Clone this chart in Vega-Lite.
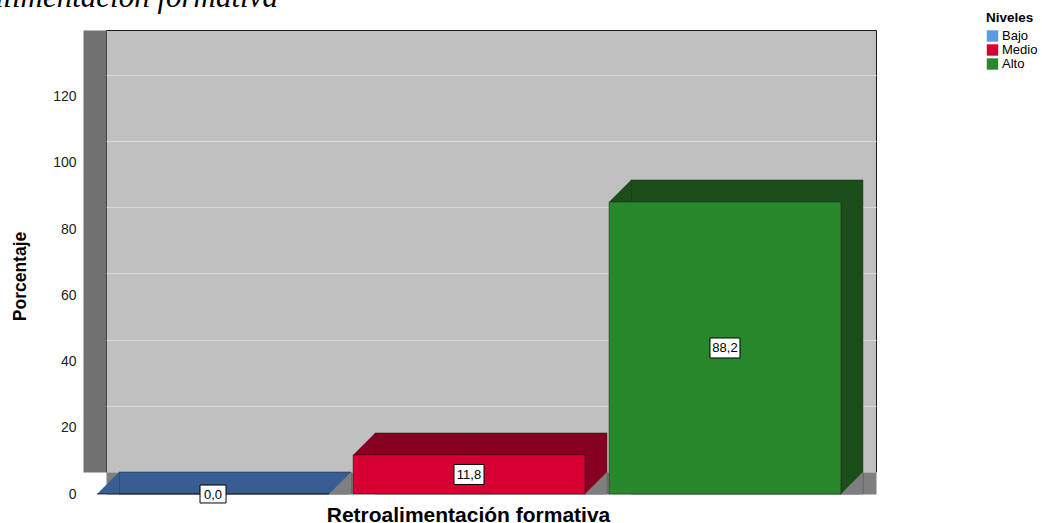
{
  "$schema": "https://vega.github.io/schema/vega-lite/v6.json",
  "width": 770,
  "height": 442,
  "autosize": {"type": "none"},
  "padding": {"left": 106, "top": 30, "right": 166, "bottom": 51},
  "background": "white",
  "title": {
    "text": "Retroalimentación formativa",
    "frame": "group",
    "anchor": "start",
    "align": "right",
    "dx": 172,
    "orient": "top",
    "offset": -27,
    "baseline": "alphabetic",
    "font": "Liberation Serif",
    "fontStyle": "italic",
    "fontWeight": "normal",
    "fontSize": 31,
    "color": "#000000"
  },
  "config": {
    "locale": {"number": {"decimal": ",", "thousands": ".", "grouping": [3], "currency": ["", " €"]}},
    "view": {"fill": "#c0c0c0", "stroke": "#1a1a1a", "strokeWidth": 1},
    "font": "Liberation Sans"
  },
  "data": {
    "values": [
      {"nivel": "Bajo", "pct": 0.0},
      {"nivel": "Medio", "pct": 11.8},
      {"nivel": "Alto", "pct": 88.2}
    ]
  },
  "resolve": {"scale": {"y": "independent"}},
  "encoding": {
    "x": {
      "field": "nivel",
      "type": "nominal",
      "sort": ["Bajo", "Medio", "Alto"],
      "scale": {"paddingInner": 0.094, "paddingOuter": 0.051},
      "axis": {
        "title": "Retroalimentación formativa",
        "labels": false,
        "ticks": false,
        "domainWidth": 22,
        "domainColor": "#7f7f7f",
        "offset": 11,
        "titleFont": "Liberation Sans",
        "titleFontSize": 21,
        "titleFontWeight": "bold",
        "titleColor": "#000000",
        "titleX": 362,
        "titleY": 38,
        "titleAlign": "center",
        "titleBaseline": "alphabetic"
      }
    }
  },
  "layer": [
    {
      "mark": {"type": "bar", "y2Offset": 22, "stroke": "#111111", "strokeWidth": 0.6, "strokeOpacity": 0.7},
      "encoding": {
        "y": {
          "field": "pct",
          "type": "quantitative",
          "scale": {"domain": [0, 133.5], "nice": false},
          "axis": {
            "title": "Porcentaje",
            "values": [0, 20, 40, 60, 80, 100, 120],
            "ticks": false,
            "domainWidth": 23,
            "domainColor": "#717171",
            "offset": 11.5,
            "labelPadding": 18.5,
            "labelOffset": 22,
            "labelFontSize": 14,
            "labelColor": "#222222",
            "labelFont": "Liberation Sans",
            "grid": true,
            "gridColor": "#dadada",
            "gridWidth": 1,
            "titleFont": "Liberation Sans",
            "titleFontSize": 17.5,
            "titleFontWeight": "bold",
            "titleColor": "#000000",
            "titleAngle": -90,
            "titleX": -74.5,
            "titleY": 246,
            "titleAlign": "center",
            "titleBaseline": "middle"
          }
        },
        "y2": {"datum": 0},
        "fill": {
          "condition": [
            {"test": "datum.nivel === 'Bajo'", "value": "#375d92"},
            {"test": "datum.nivel === 'Medio'", "value": "#850021"}
          ],
          "value": "#1b4e1a"
        }
      }
    },
    {
      "mark": {"type": "point", "filled": true, "opacity": 1, "strokeWidth": 0, "shape": "M-1,1L1,-1L1,1Z", "size": 484, "xOffset": -11, "yOffset": 11},
      "encoding": {
        "x": {"field": "nivel", "type": "nominal", "sort": ["Bajo", "Medio", "Alto"], "bandPosition": 0},
        "y": {"field": "pct", "type": "quantitative", "scale": {"domain": [0, 133.5], "nice": false}, "axis": null},
        "fill": {
          "condition": [
            {"test": "datum.nivel === 'Bajo'", "value": "#375d92"},
            {"test": "datum.nivel === 'Medio'", "value": "#850021"}
          ],
          "value": "#1b4e1a"
        }
      }
    },
    {
      "mark": {"type": "point", "filled": true, "opacity": 1, "strokeWidth": 0, "fill": "#7f7f7f", "shape": "M1,-1L1,1L-1,1Z", "size": 484, "xOffset": -11, "yOffset": 11},
      "encoding": {
        "x": {"field": "nivel", "type": "nominal", "sort": ["Bajo", "Medio", "Alto"], "bandPosition": 1},
        "y": {"datum": 0, "type": "quantitative", "scale": {"domain": [0, 133.5], "nice": false}, "axis": null}
      }
    },
    {
      "mark": {"type": "bar", "xOffset": -22, "yOffset": 22, "y2Offset": 22, "stroke": "#111111", "strokeWidth": 0.6, "strokeOpacity": 0.7},
      "encoding": {
        "y": {"field": "pct", "type": "quantitative", "scale": {"domain": [0, 133.5], "nice": false}, "axis": null},
        "y2": {"datum": 0},
        "color": {
          "field": "nivel",
          "type": "nominal",
          "scale": {"domain": ["Bajo", "Medio", "Alto"], "range": ["#5a9be4", "#d60032", "#2a882c"]},
          "legend": {
            "orient": "none",
            "legendX": 880,
            "legendY": -19,
            "title": "Niveles",
            "titleFont": "Liberation Sans",
            "titleFontSize": 13.5,
            "titleFontWeight": "bold",
            "titleColor": "#000000",
            "titlePadding": 5,
            "labelFont": "Liberation Sans",
            "labelFontSize": 13,
            "labelColor": "#000000",
            "labelOffset": 3,
            "symbolType": "square",
            "symbolSize": 130,
            "symbolStrokeWidth": 0,
            "rowPadding": 0,
            "padding": 0
          }
        }
      }
    },
    {
      "mark": {"type": "point", "filled": true, "fill": "#ffffff", "stroke": "#000000", "strokeWidth": 1, "opacity": 1, "xOffset": -22, "yOffset": 22},
      "encoding": {
        "y": {"field": "pct", "type": "quantitative", "scale": {"domain": [0, 267], "nice": false}, "axis": null},
        "shape": {
          "condition": {"test": "datum.pct < 10", "value": "M-1,-0.69L1,-0.69L1,0.69L-1,0.69Z"},
          "value": "M-1,-0.667L1,-0.667L1,0.667L-1,0.667Z"
        },
        "size": {"condition": {"test": "datum.pct < 10", "value": 676}, "value": 900}
      }
    },
    {
      "mark": {"type": "text", "xOffset": -22, "yOffset": 22, "fontSize": 13, "font": "Liberation Sans", "color": "#000000", "baseline": "middle", "align": "center", "dy": 0.5},
      "encoding": {
        "y": {"field": "pct", "type": "quantitative", "scale": {"domain": [0, 267], "nice": false}, "axis": null},
        "text": {"field": "pct", "type": "quantitative", "format": ".1f"}
      }
    }
  ]
}
